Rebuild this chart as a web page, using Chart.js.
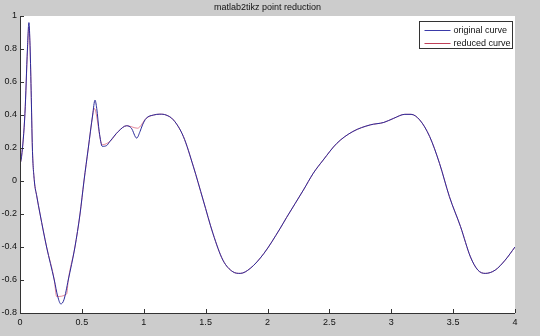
<!DOCTYPE html>
<html><head><meta charset="utf-8">
<script src="https://cdn.jsdelivr.net/npm/chart.js@4/dist/chart.umd.min.js"></script>
<style>html,body{margin:0;padding:0;background:#cccccc;}canvas{display:block;}</style>
</head><body>
<canvas id="c" width="540" height="336"></canvas>
<script>
const titleText = "matlab2tikz point reduction";
const seriesNames = ["original curve", "reduced curve"];
const xTicks = [0, 0.5, 1, 1.5, 2, 2.5, 3, 3.5, 4];
const yTicks = [-0.8, -0.6, -0.4, -0.2, 0, 0.2, 0.4, 0.6, 0.8, 1];

const originalX = [0.000,0.013,0.040,0.060,0.072,0.080,0.090,0.100,0.116,0.135,0.162,0.215,0.277,0.305,0.330,0.355,0.390,0.444,0.485,0.517,0.552,0.587,0.606,0.620,0.640,0.665,0.700,0.727,0.794,0.862,0.900,0.943,0.970,0.990,1.020,1.080,1.130,1.180,1.240,1.320,1.400,1.480,1.560,1.640,1.720,1.780,1.860,1.970,2.100,2.155,2.290,2.370,2.450,2.560,2.690,2.830,2.940,3.020,3.110,3.160,3.230,3.310,3.390,3.470,3.560,3.640,3.700,3.760,3.840,3.920,4.000];
const originalY = [0.10,0.15,0.41,0.80,0.96,0.85,0.55,0.20,0.00,-0.09,-0.20,-0.40,-0.60,-0.70,-0.745,-0.72,-0.60,-0.40,-0.20,0.00,0.20,0.40,0.49,0.44,0.30,0.21,0.215,0.24,0.30,0.335,0.32,0.26,0.30,0.34,0.38,0.40,0.405,0.40,0.37,0.27,0.09,-0.115,-0.32,-0.48,-0.55,-0.56,-0.53,-0.44,-0.29,-0.22,-0.055,0.047,0.127,0.228,0.30,0.34,0.355,0.38,0.404,0.404,0.37,0.27,0.107,-0.095,-0.277,-0.46,-0.54,-0.56,-0.54,-0.48,-0.40];

const reducedX = [0.000,0.013,0.040,0.060,0.072,0.080,0.090,0.100,0.116,0.135,0.162,0.215,0.277,0.296,0.377,0.390,0.444,0.485,0.517,0.552,0.580,0.600,0.665,0.727,0.794,0.862,0.950,1.020,1.080,1.130,1.180,1.240,1.320,1.400,1.480,1.560,1.640,1.720,1.780,1.860,1.970,2.100,2.155,2.290,2.370,2.450,2.560,2.690,2.830,2.940,3.020,3.110,3.160,3.230,3.310,3.390,3.470,3.560,3.640,3.700,3.760,3.840,3.920,4.000];
const reducedY = [0.10,0.15,0.41,0.78,0.93,0.84,0.55,0.20,0.00,-0.09,-0.20,-0.40,-0.60,-0.70,-0.685,-0.60,-0.40,-0.20,0.00,0.20,0.36,0.44,0.22,0.24,0.30,0.335,0.32,0.38,0.40,0.405,0.40,0.37,0.27,0.09,-0.115,-0.32,-0.48,-0.55,-0.56,-0.53,-0.44,-0.29,-0.22,-0.055,0.047,0.127,0.228,0.30,0.34,0.355,0.38,0.404,0.404,0.37,0.27,0.107,-0.095,-0.277,-0.46,-0.54,-0.56,-0.54,-0.48,-0.40];

const seriesColors = ["#2a2a9a", "rgba(210,40,70,0.55)"];
const legendColors = ["#3a3aa8", "#c04058"];
const FONT = "'Liberation Sans', Arial, sans-serif";

function pts(xs, ys){ return xs.map((x,i)=>({x:x, y:ys[i]})); }

const deco = {
  id: 'deco',
  beforeDraw(chart){
    const {ctx, chartArea:a} = chart;
    ctx.save();
    ctx.fillStyle = '#cccccc';
    ctx.fillRect(0,0,chart.width,chart.height);
    ctx.fillStyle = '#ffffff';
    ctx.fillRect(a.left, a.top, a.right-a.left, a.bottom-a.top);
    ctx.restore();
  },
  afterDraw(chart){
    const {ctx, chartArea:a, scales} = chart;
    ctx.save();
    ctx.strokeStyle = '#333';
    ctx.lineWidth = 1;
    ctx.beginPath();
    ctx.moveTo(a.left+0.5, a.top);
    ctx.lineTo(a.left+0.5, a.bottom+0.5);
    ctx.lineTo(a.right, a.bottom+0.5);
    ctx.stroke();
    ctx.beginPath();
    scales.x.ticks.forEach(t=>{
      const p = Math.round(scales.x.getPixelForValue(t.value))+0.5;
      ctx.moveTo(p, a.bottom); ctx.lineTo(p, a.bottom-4);
    });
    scales.y.ticks.forEach(t=>{
      const p = Math.round(scales.y.getPixelForValue(t.value))+0.5;
      ctx.moveTo(a.left, p); ctx.lineTo(a.left+4, p);
    });
    ctx.stroke();
    // title
    ctx.fillStyle = '#111';
    ctx.font = '9px ' + FONT;
    ctx.textAlign = 'center';
    ctx.textBaseline = 'middle';
    ctx.fillText(titleText, (a.left+a.right)/2, 8);
    // legend
    const lx = 419.5, ly = 21.5, lw = 93, lh = 27;
    ctx.fillStyle = '#fff';
    ctx.fillRect(lx, ly, lw, lh);
    ctx.strokeStyle = '#333';
    ctx.strokeRect(lx, ly, lw, lh);
    ctx.textAlign = 'left';
    chart.data.datasets.forEach((ds,i)=>{
      const y = Math.round(ly + 8 + i*13) + 0.5;
      ctx.strokeStyle = legendColors[i];
      ctx.beginPath(); ctx.moveTo(lx+5, y); ctx.lineTo(lx+31, y); ctx.stroke();
      ctx.fillStyle = '#111';
      ctx.fillText(ds.label, lx+34, y);
    });
    ctx.restore();
  }
};

new Chart(document.getElementById('c'), {
  type: 'line',
  data: {
    datasets: [
      {label: seriesNames[0], data: pts(originalX, originalY), borderColor: seriesColors[0], borderWidth: 1, pointRadius: 0, cubicInterpolationMode: 'monotone', fill: false},
      {label: seriesNames[1], data: pts(reducedX, reducedY), borderColor: seriesColors[1], borderWidth: 1, pointRadius: 0, cubicInterpolationMode: 'monotone', fill: false}
    ]
  },
  options: {
    responsive: false,
    devicePixelRatio: 1,
    animation: false,
    layout: {padding: {left: 0, right: 25, top: 16, bottom: 0}},
    plugins: {legend: {display: false}, title: {display: false}, tooltip: {enabled: false}},
    scales: {
      x: {
        type: 'linear', min: 0, max: 4,
        afterBuildTicks: s => { s.ticks = xTicks.map(v=>({value:v})); },
        afterFit: s => { s.height = 23; },
        grid: {display: false, drawTicks: false}, border: {display: false},
        ticks: {padding: 4, maxRotation: 0, autoSkip: false, color: '#111', font: {family: FONT, size: 9}, callback: v => String(v)}
      },
      y: {
        type: 'linear', min: -0.8, max: 1,
        afterBuildTicks: s => { s.ticks = yTicks.map(v=>({value:v})); },
        afterFit: s => { s.width = 20; },
        grid: {display: false, drawTicks: false}, border: {display: false},
        ticks: {padding: 3, autoSkip: false, color: '#111', font: {family: FONT, size: 9}, callback: v => String(Math.round(v*10)/10)}
      }
    }
  },
  plugins: [deco]
});
</script>
</body></html>
